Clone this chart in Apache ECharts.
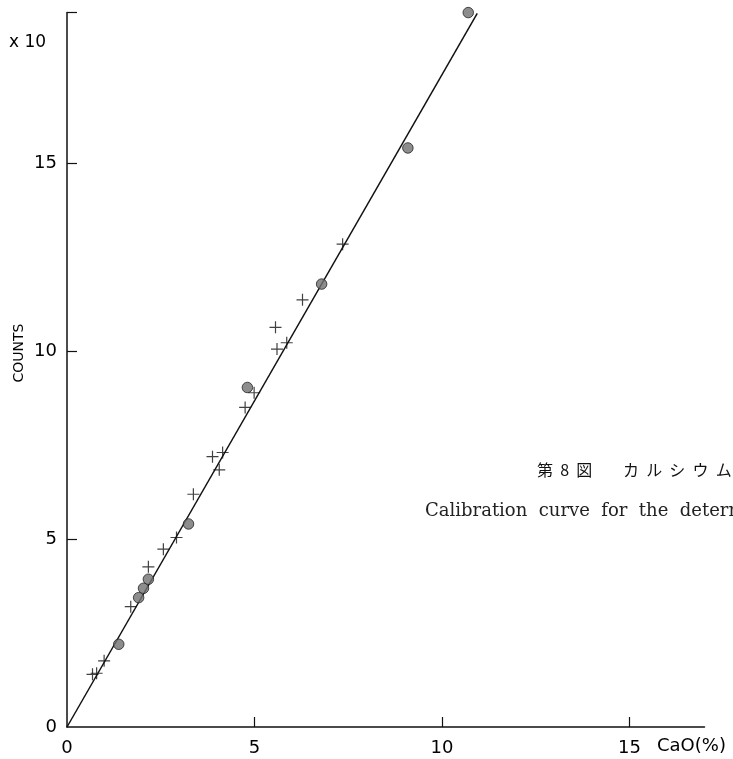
<!DOCTYPE html>
<html lang="ja">
<head>
<meta charset="UTF-8">
<title>Calibration curve CaO</title>
<style>
  html, body { margin: 0; padding: 0; background: #fff; }
  #main { width: 733px; height: 759px; }
</style>
</head>
<body>
<div id="main"></div>
<script src="https://cdn.jsdelivr.net/npm/echarts@6/dist/echarts.min.js"></script>
<script>
// CaO (%) vs counts (x10)
var circleX = [1.38, 1.91, 2.04, 2.17, 3.24, 4.81, 6.79, 9.09, 10.70];
var circleY = [2.20, 3.44, 3.69, 3.93, 5.40, 9.03, 11.78, 15.40, 19.00];

var crossX = [0.68, 0.79, 0.99, 1.70, 2.17, 2.57, 2.92, 3.37, 3.88, 4.06, 4.15, 4.75, 4.99, 5.56, 5.60, 5.86, 6.28, 7.35];
var crossY = [1.40, 1.43, 1.76, 3.20, 4.26, 4.73, 5.04, 6.19, 7.19, 6.84, 7.30, 8.50, 8.89, 10.63, 10.05, 10.22, 11.36, 12.84];

// fitted calibration line
var fitX = [0, 10.94];
var fitY = [0, 18.98];

var tickLabels = [0, 5, 10, 15];
var xTicks = [5, 10, 15];
var yTicks = [5, 10, 15, 19];

function pairs(xs, ys) {
    return xs.map(function (x, i) { return [x, ys[i]]; });
}

var plusPath = 'path://M0,5.4H12V6.6H0Z M5.4,0H6.6V12H5.4Z';
var tickFont = { color: '#000', fontSize: 18, fontFamily: 'DejaVu Sans' };
var jpFont = '16px "Noto Sans CJK JP"';

var option = {
    backgroundColor: '#fff',
    animation: false,
    grid: { left: 67, top: 12.6, width: 637.5, height: 714.4 },
    xAxis: {
        type: 'value',
        min: 0,
        max: 17,
        interval: 5,
        splitLine: { show: false },
        axisLine: { lineStyle: { color: '#111', width: 1.5 } },
        axisTick: { inside: true, length: 10, customValues: xTicks, lineStyle: { color: '#111', width: 1.2 } },
        axisLabel: Object.assign({ margin: 12, customValues: tickLabels }, tickFont)
    },
    yAxis: {
        type: 'value',
        min: 0,
        max: 19,
        interval: 5,
        splitLine: { show: false },
        axisLine: { lineStyle: { color: '#111', width: 1.5 } },
        axisTick: { inside: true, length: 10, customValues: yTicks, lineStyle: { color: '#111', width: 1.2 } },
        axisLabel: Object.assign({ margin: 10, customValues: tickLabels }, tickFont)
    },
    graphic: [
        {
            type: 'text', left: 9, top: 34,
            style: { text: 'x 10', fill: '#000', font: '17px "DejaVu Sans"' }
        },
        {
            type: 'text', x: 19, y: 353, rotation: Math.PI / 2,
            style: { text: 'COUNTS', fill: '#000', font: '14px "DejaVu Sans"', align: 'center', verticalAlign: 'middle' }
        },
        {
            type: 'text', left: 657, top: 737,
            style: { text: 'CaO(%)', fill: '#000', font: '18px "DejaVu Sans"' }
        },
        {
            type: 'text', left: 537, top: 462,
            style: { text: '第  8  図', fill: '#111', font: jpFont }
        },
        {
            type: 'text', left: 623, top: 462,
            style: { text: 'カ  ル  シ  ウ  ム  の  定  量', fill: '#111', font: jpFont }
        },
        {
            type: 'text', left: 425, top: 502,
            style: { text: 'Calibration  curve  for  the  determination  of  calcium', fill: '#222', font: '18px "DejaVu Serif"' }
        }
    ],
    series: [
        {
            type: 'line',
            data: pairs(fitX, fitY),
            symbol: 'none',
            lineStyle: { color: '#111', width: 1.5 },
            z: 1
        },
        {
            type: 'scatter',
            data: pairs(crossX, crossY),
            symbol: plusPath,
            symbolSize: 12,
            itemStyle: { color: '#111' },
            z: 2
        },
        {
            type: 'scatter',
            data: pairs(circleX, circleY),
            symbol: 'circle',
            symbolSize: 10.5,
            itemStyle: { color: '#707070', borderColor: '#222', borderWidth: 1 },
            z: 3
        }
    ]
};

var myChart = echarts.init(document.getElementById('main'));
myChart.setOption(option);
</script>
</body>
</html>
